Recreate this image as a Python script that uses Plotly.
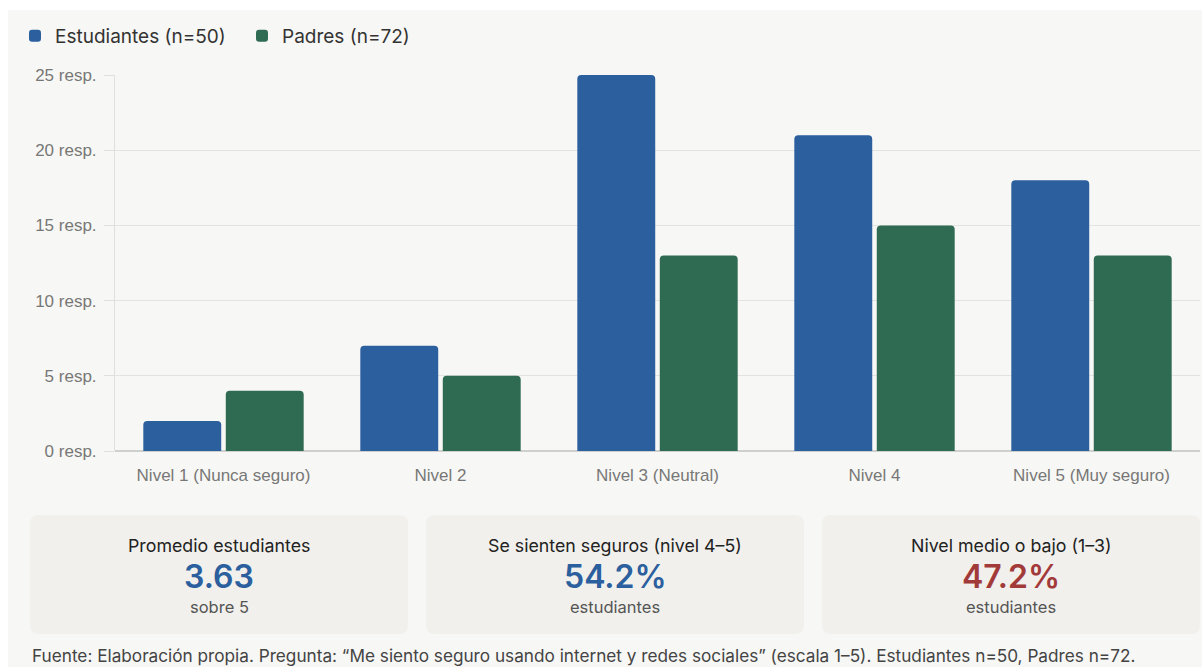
import plotly.graph_objects as go

categories = ["Nivel 1 (Nunca seguro)", "Nivel 2", "Nivel 3 (Neutral)", "Nivel 4", "Nivel 5 (Muy seguro)"]
estudiantes = [2, 7, 25, 21, 18]
padres = [4, 5, 13, 15, 13]
tick_vals = [0, 5, 10, 15, 20, 25]
tick_text = ["0 resp.", "5 resp.", "10 resp.", "15 resp.", "20 resp.", "25 resp."]

card_titles = ["Promedio estudiantes", "Se sienten seguros (nivel 4–5)", "Nivel medio o bajo (1–3)"]
card_values = ["3.63", "54.2%", "47.2%"]
card_subs = ["sobre 5", "estudiantes", "estudiantes"]
footer = "Fuente: Elaboración propia. Pregunta: “Me siento seguro usando internet y redes sociales” (escala 1–5). Estudiantes n=50, Padres n=72."

W, H = 1202, 667
BLUE = "#2b5f9e"
GREEN = "#2f6b53"
RED = "#a33a3a"
BG = "#f7f7f5"
CARD = "#f1f0ec"

def px(x):
    return x / W

def py(y):
    return 1 - y / H

fig = go.Figure()
fig.add_trace(go.Bar(x=categories, y=estudiantes, name="Estudiantes (n=50)", marker_color=BLUE,
                     marker_line_width=0))
fig.add_trace(go.Bar(x=categories, y=padres, name="Padres (n=72)", marker_color=GREEN,
                     marker_line_width=0))

shapes = [
    dict(type="rect", xref="paper", yref="paper", x0=px(8), x1=1, y0=0, y1=py(10),
         fillcolor=BG, line_width=0, layer="below"),
]

def rounded(x0, y0, x1, y1, r):
    X = lambda v: px(v)
    Y = lambda v: py(v)
    return (f"M {X(x0+r)},{Y(y0)} L {X(x1-r)},{Y(y0)} Q {X(x1)},{Y(y0)} {X(x1)},{Y(y0+r)} "
            f"L {X(x1)},{Y(y1-r)} Q {X(x1)},{Y(y1)} {X(x1-r)},{Y(y1)} "
            f"L {X(x0+r)},{Y(y1)} Q {X(x0)},{Y(y1)} {X(x0)},{Y(y1-r)} "
            f"L {X(x0)},{Y(y0+r)} Q {X(x0)},{Y(y0)} {X(x0+r)},{Y(y0)} Z")

annotations = []
card_x = [(30, 408), (426, 804), (822, 1200)]
value_colors = [BLUE, BLUE, RED]
for (x0, x1), t, v, s, c in zip(card_x, card_titles, card_values, card_subs, value_colors):
    shapes.append(dict(type="path", xref="paper", yref="paper", path=rounded(x0, 515, x1, 634, 9),
                       fillcolor=CARD, line_width=0, layer="below"))
    cx = px((x0 + x1) / 2)
    annotations.append(dict(x=cx, y=py(545), xref="paper", yref="paper", text=t, showarrow=False,
                            font=dict(family="Inter", size=17.8, color="#222222"), xanchor="center", yanchor="middle"))
    annotations.append(dict(x=cx, y=py(576), xref="paper", yref="paper", text=v, showarrow=False,
                            font=dict(family="Inter", size=32, color=c, weight=600), xanchor="center", yanchor="middle"))
    annotations.append(dict(x=cx, y=py(607), xref="paper", yref="paper", text=s, showarrow=False,
                            font=dict(family="Inter", size=16.5, color="#555555"), xanchor="center", yanchor="middle"))

annotations.append(dict(x=px(30), y=py(655), xref="paper", yref="paper", text=footer, showarrow=False,
                        font=dict(family="Inter", size=17.2, color="#444444"), xanchor="left", yanchor="middle"))

fig.update_layout(
    width=W, height=H,
    margin=dict(l=0, r=0, t=0, b=0, autoexpand=False),
    paper_bgcolor="white",
    plot_bgcolor=BG,
    barmode="group",
    bargap=0.24,
    bargroupgap=0.055,
    barcornerradius=4,
    font=dict(family="Liberation Sans, Arial", color="#777777"),
    legend=dict(orientation="h", x=px(15), y=py(36), xanchor="left", yanchor="middle",
                font=dict(family="Inter", size=19, color="#333333"), bgcolor="rgba(0,0,0,0)",
                entrywidth=182, entrywidthmode="pixels",
                itemclick=False),
    xaxis=dict(domain=[px(115), px(1200)], showgrid=False, showline=False, ticks="",
               ticklabelstandoff=12,
               tickfont=dict(size=17, color="#777777")),
    yaxis=dict(domain=[py(451), py(75)], range=[0, 25], tickvals=tick_vals, ticktext=tick_text,
               showgrid=True, gridcolor="#e3e3e1", gridwidth=1, zeroline=True, zerolinecolor="#cfcfcd",
               showline=True, linecolor="#e0e0de", ticks="outside", ticklen=10, tickcolor="#e0e0de",
               ticklabelstandoff=4,
               tickfont=dict(size=17, color="#777777")),
    shapes=shapes,
    annotations=annotations,
    hovermode=False,
)

fig.write_html("out.html", config={"displayModeBar": False},
               post_script="document.body.style.margin='0';document.body.style.overflow='hidden';")
